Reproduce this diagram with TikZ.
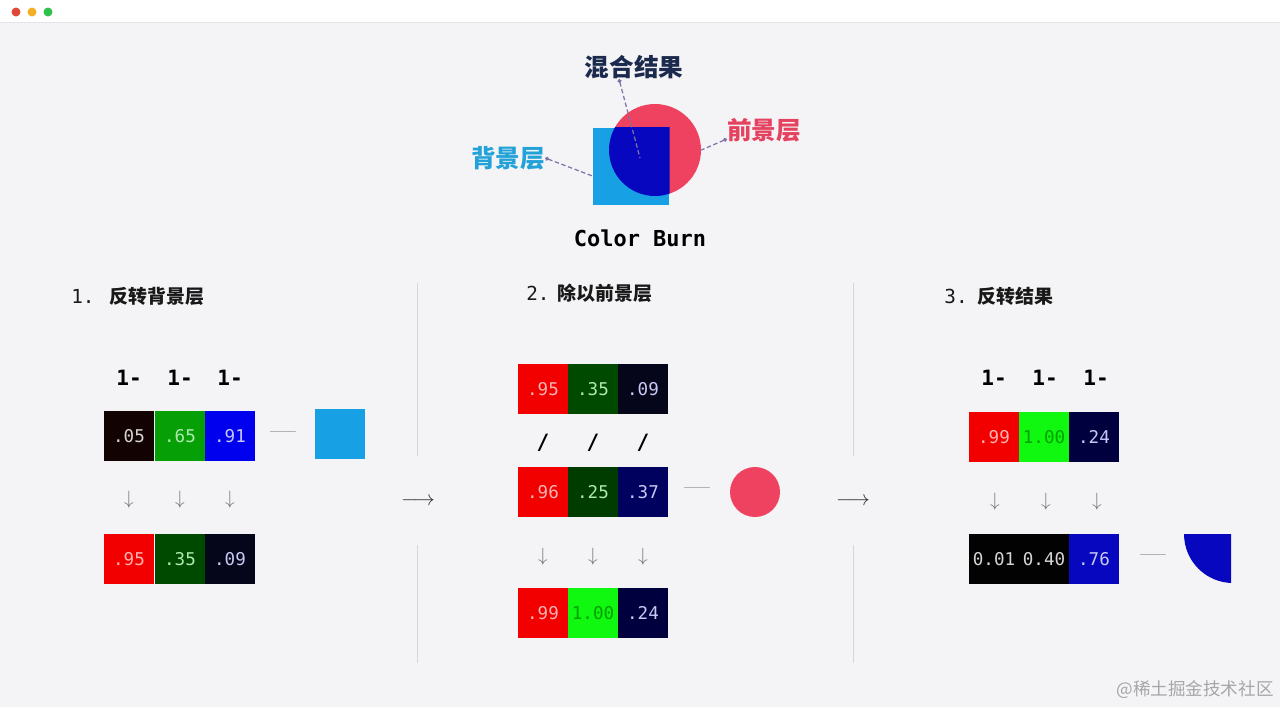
\documentclass[tikz,border=0pt]{standalone}
\usepackage{fontspec}
\setmonofont{DejaVu Sans Mono}
\newfontfamily\cjk{Noto Sans CJK SC}
\usetikzlibrary{positioning, shapes, arrows.meta}
\definecolor{winbg}{HTML}{F4F4F7}
\definecolor{barline}{HTML}{E4E4E8}
\definecolor{dotred}{HTML}{E0483A}
\definecolor{dotyellow}{HTML}{F2B124}
\definecolor{dotgreen}{HTML}{2FC24B}
\definecolor{navy}{HTML}{1C2B4D}
\definecolor{bgcyan}{HTML}{17A0E3}
\definecolor{bgtext}{HTML}{22A2D8}
\definecolor{fgpink}{HTML}{EF4260}
\definecolor{fgtext}{HTML}{E4425F}
\definecolor{burnblue}{HTML}{0707C0}
\definecolor{pointer}{HTML}{7E70A8}
\definecolor{sepgray}{HTML}{D6D6DA}
% cell colours
\definecolor{c05}{HTML}{120202}
\definecolor{c65}{HTML}{06A006}
\definecolor{c91}{HTML}{0000EE}
\definecolor{cred}{HTML}{F20000}
\definecolor{c35}{HTML}{004A00}
\definecolor{c09}{HTML}{06061A}
\definecolor{c25}{HTML}{003C00}
\definecolor{c37}{HTML}{00005E}
\definecolor{clime}{HTML}{10F810}
\definecolor{c24}{HTML}{00003E}
\definecolor{cblack}{HTML}{020202}
% cell text colours
\definecolor{tgray}{HTML}{D8D4D4}
\definecolor{tpink}{HTML}{FFB3B3}
\definecolor{tmint}{HTML}{AEE8AE}
\definecolor{tlav}{HTML}{C8C8F5}
\definecolor{tgreen}{HTML}{00A000}
\tikzset{
    cell/.style = {rectangle, minimum width=1cm, minimum height=1cm, inner sep=0pt,
                        font=\ttfamily\fontsize{10}{11}\selectfont},
    heading/.style = {anchor=west, inner sep=0pt, text=black!90},
    oneminus/.style = {font=\ttfamily\bfseries\fontsize{12}{14}\selectfont, inner sep=0pt},
    down/.style = {text=black!55, font=\fontsize{11}{13}\selectfont, inner sep=0pt},
    flow/.style = {text=black!80, font=\fontsize{12}{14}\selectfont, inner sep=0pt},
    dashmark/.style = {text=black!65, font=\fontsize{15.5}{17}\selectfont, inner sep=0pt},
    layerlabel/.style = {font=\cjk\bfseries\fontsize{14}{16}\selectfont, inner sep=0pt},
    pointerline/.style = {draw=pointer, line width=0.7pt, dash pattern=on 2.5pt off 1.5pt, {Circle[length=2.2pt]}-}
}

\begin{document}
\begin{tikzpicture}[x=0.02cm, y=-0.02cm]
		\useasboundingbox (0,0) rectangle (1280,707);
		% window
		\fill [winbg] (0,0) rectangle (1280,707);
		\fill [white] (0,0) rectangle (1280,22);
		\draw [barline] (0,22) -- (1280,22);
		\foreach \c/\x in {dotred/16, dotyellow/32, dotgreen/48}
			\fill [\c] (\x,12) circle (0.09cm);

		% top: blend illustration
		\node (fgdot) [circle, fill=fgpink, minimum size=1.84cm, inner sep=0pt] at (655,150) {};
		\node (bgsq) [rectangle, fill=bgcyan, minimum size=1.53cm, inner sep=0pt] at (631,166.5) {};
		\begin{scope}
			\clip (bgsq.south west) rectangle (bgsq.north east);
			\fill [burnblue] (fgdot.center) circle (0.92cm);
		\end{scope}
		\coordinate (mixpt) at (640,158);
		\node (mixlbl) [layerlabel, text=navy] at (634,67) {混合结果};
		\node (bglbl) [layerlabel, text=bgtext] at (508,158) {背景层};
		\node (fglbl) [layerlabel, text=fgtext] at (764,130) {前景层};
		\draw [pointerline] ([xshift=-0.3cm]mixlbl.south) -- (mixpt);
		\draw [pointerline] (bglbl.east) -- ([yshift=-0.19cm]bgsq.west);
		\draw [pointerline] ([yshift=-0.18cm]fglbl.west) -- (fgdot.east);
		\node (title) [font=\ttfamily\bfseries\fontsize{12.5}{14}\selectfont] at (640,238) {Color Burn};

		% separators
		\draw [sepgray] (417,283) -- (417,456);
		\draw [sepgray] (417,545) -- (417,663);
		\draw [sepgray] (853,283) -- (853,456);
		\draw [sepgray] (853,545) -- (853,663);
		\node (step12) [flow] at (418,502) {$\longrightarrow$};
		\node (step23) [flow] at (853,502) {$\longrightarrow$};

		% 1. invert background
		\node (h1) [heading] at (71,296) {{\ttfamily\fontsize{11}{13}\selectfont 1.}\hspace{0.30cm}{\cjk\bfseries\fontsize{10.8}{13}\selectfont 反转背景层}};
		\foreach \x in {129,180,230}
			\node (m1-\x) [oneminus] at (\x,378) {1-};
		\node (a1) [cell, fill=c05, text=tgray] at (129,436) {.05};
		\node (a2) [cell, fill=c65, text=tmint] at (180,436) {.65};
		\node (a3) [cell, fill=c91, text=tlav] at (230,436) {.91};
		\node (d1) [dashmark] at (283,436) {—};
		\node (bgswatch) [rectangle, fill=bgcyan, minimum size=1cm, inner sep=0pt] at (340,434) {};
		\foreach \x in {129,180,230}
			\node (v1-\x) [down] at (\x,500) {$\downarrow$};
		\node (b1) [cell, fill=cred, text=tpink] at (129,559) {.95};
		\node (b2) [cell, fill=c35, text=tmint] at (180,559) {.35};
		\node (b3) [cell, fill=c09, text=tlav] at (230,559) {.09};

		% 2. divide by foreground
		\node (h2) [heading] at (526,293) {{\ttfamily\fontsize{11}{13}\selectfont 2.}\hspace{0.16cm}{\cjk\bfseries\fontsize{10.8}{13}\selectfont 除以前景层}};
		\node (p1) [cell, fill=cred, text=tpink] at (543,389) {.95};
		\node (p2) [cell, fill=c35, text=tmint] at (593,389) {.35};
		\node (p3) [cell, fill=c09, text=tlav] at (643,389) {.09};
		\foreach \x in {543,593,643}
			\node (s2-\x) [oneminus] at (\x,443) {/};
		\node (q1) [cell, fill=cred, text=tpink] at (543,492) {.96};
		\node (q2) [cell, fill=c25, text=tmint] at (593,492) {.25};
		\node (q3) [cell, fill=c37, text=tlav] at (643,492) {.37};
		\node (d2) [dashmark] at (697,492) {—};
		\node (fgswatch) [circle, fill=fgpink, minimum size=1cm, inner sep=0pt] at (755,492) {};
		\foreach \x in {543,593,643}
			\node (v2-\x) [down] at (\x,557) {$\downarrow$};
		\node (r1) [cell, fill=cred, text=tpink] at (543,613) {.99};
		\node (r2) [cell, fill=clime, text=tgreen] at (593,613) {1.00};
		\node (r3) [cell, fill=c24, text=tlav] at (643,613) {.24};

		% 3. invert result
		\node (h3) [heading] at (944,296) {{\ttfamily\fontsize{11}{13}\selectfont 3.}\hspace{0.20cm}{\cjk\bfseries\fontsize{10.8}{13}\selectfont 反转结果}};
		\foreach \x in {994,1045,1096}
			\node (m3-\x) [oneminus] at (\x,378) {1-};
		\node (u1) [cell, fill=cred, text=tpink] at (994,437) {.99};
		\node (u2) [cell, fill=clime, text=tgreen] at (1044,437) {1.00};
		\node (u3) [cell, fill=c24, text=tlav] at (1094,437) {.24};
		\foreach \x in {995,1046,1097}
			\node (v3-\x) [down] at (\x,502) {$\downarrow$};
		\node (w1) [cell, fill=cblack, text=tgray] at (994,559) {0.01};
		\node (w2) [cell, fill=cblack, text=tgray] at (1044,559) {0.40};
		\node (w3) [cell, fill=burnblue, text=tlav] at (1094,559) {.76};
		\node (d3) [dashmark] at (1153,559) {—};
		\begin{scope}
			\clip (1184,534) rectangle (1231,585);
			\fill [burnblue] (1233,534) circle (0.98cm);
		\end{scope}

		% watermark
		\node (mark) [anchor=east, text=black!35, font=\cjk\fontsize{10}{12}\selectfont, inner sep=0pt] at (1274,690) {@稀土掘金技术社区};
	\end{tikzpicture}
\end{document}
